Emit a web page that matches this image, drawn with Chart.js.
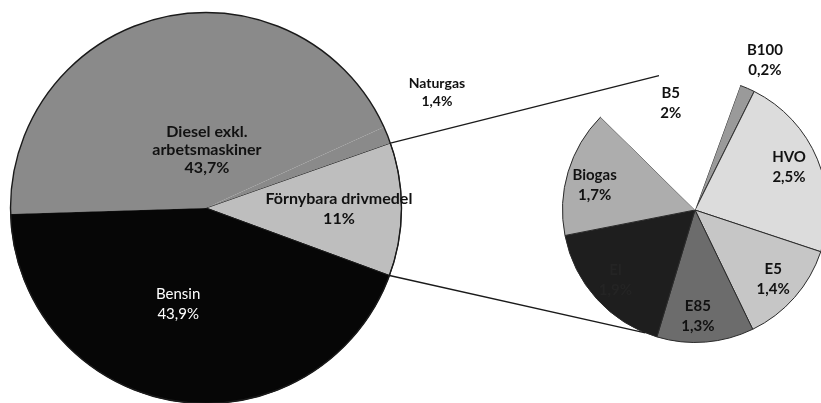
<!DOCTYPE html>
<html><head><meta charset="utf-8">
<script src="https://cdn.jsdelivr.net/npm/chart.js@4"></script>
<style>
html,body{margin:0;padding:0;background:#fff;overflow:hidden;width:821px;height:403px}
#wrap{position:relative;width:821px;height:403px;overflow:hidden;background:#fff}
canvas{position:absolute;left:0;top:0}
</style></head><body>
<div id="wrap"><canvas id="main" width="840" height="420"></canvas><canvas id="sub" width="840" height="420"></canvas></div>
<script>
// ---- data ----
const mainLabels = ['Förnybara drivmedel', 'Bensin', ['Diesel exkl.', 'arbetsmaskiner'], 'Naturgas'];
const mainValues = [11, 43.9, 43.7, 1.4];
const subLabels = ['B100', 'HVO', 'E5', 'E85', 'El', 'Biogas', 'B5'];
const subValues = [0.2, 2.5, 1.4, 1.3, 1.9, 1.7, 2];

// ---- styling ----
const mainColors = ['#bebebe', '#060606', '#8a8a8a', '#8a8a8a'];
const mainBorders = [1, 1, 0, 0];
const subColors = ['#9a9a9a', '#dcdcdc', '#c6c6c6', '#6c6c6c', '#1e1e1e', '#adadad', '#ffffff'];
const subBorders = [1, 1, 1, 1, 1, 1, 0];
const mainPlace = [
  {k: 0.68, da: 0, color: '#111', font: 'bold 16px Lato', lh: 20},
  {k: 0.51, da: 7, color: '#fff', font: '15px Lato', lh: 20},
  {k: 0.30, da: 14, color: '#111', font: 'bold 16px Lato', lh: 18},
  {k: 1.32, da: -4.6, color: '#111', font: 'bold 14px Lato', lh: 18}
];
const subPlace = [
  {k: 1.25, da: 1.7, color: '#111'},
  {k: 0.78, da: -2, color: '#111'},
  {k: 0.79, da: 0.4, color: '#111'},
  {k: 0.80, da: 3, color: '#111'},
  {k: 0.80, da: 0.8, color: '#242424'},
  {k: 0.78, da: -3, color: '#111'},
  {k: 0.83, da: 0, color: '#111'}
];

function fmt(v) { return String(v).replace('.', ',') + '%'; }

function labelPlugin(place, defFont, defLh, outline) {
  return {
    id: 'sliceLabels',
    afterDatasetsDraw(chart) {
      const ctx = chart.ctx;
      const meta = chart.getDatasetMeta(0);
      const labels = chart.data.labels;
      const values = chart.data.datasets[0].data;
      if (outline) {
        const p0 = meta.data[0].getProps(['x', 'y', 'outerRadius'], true);
        ctx.save();
        ctx.strokeStyle = '#1a1a1a';
        ctx.lineWidth = 1.4;
        ctx.beginPath();
        ctx.arc(p0.x, p0.y, p0.outerRadius, 0, Math.PI * 2);
        ctx.stroke();
        ctx.restore();
      }
      meta.data.forEach((arc, i) => {
        const p = arc.getProps(['x', 'y', 'startAngle', 'endAngle', 'outerRadius'], true);
        const pl = place[i];
        const mid = (p.startAngle + p.endAngle) / 2 + pl.da * Math.PI / 180;
        const r = pl.k * p.outerRadius;
        const cx = p.x + Math.cos(mid) * r;
        const cy = p.y + Math.sin(mid) * r;
        const lines = [].concat(labels[i], fmt(values[i]));
        const lh = pl.lh || defLh;
        ctx.save();
        ctx.font = pl.font || defFont;
        ctx.fillStyle = pl.color;
        ctx.textAlign = 'center';
        ctx.textBaseline = 'middle';
        const top = cy - (lines.length - 1) * lh / 2;
        lines.forEach((t, j) => ctx.fillText(t, cx, top + j * lh));
        ctx.restore();
      });
    }
  };
}

const mainChart = new Chart(document.getElementById('main'), {
  type: 'pie',
  data: {labels: mainLabels, datasets: [{data: mainValues, backgroundColor: mainColors, borderColor: '#1a1a1a', borderWidth: mainBorders}]},
  options: {
    responsive: false, animation: false, rotation: 70.6,
    layout: {padding: {left: 10, top: 12, right: 438, bottom: 16}},
    plugins: {legend: {display: false}, tooltip: {enabled: false}}
  },
  plugins: [labelPlugin(mainPlace, 'bold 15px Lato', 19, true)]
});

const connectors = {
  id: 'connectors',
  afterDatasetsDraw(chart) {
    const ctx = chart.ctx;
    const m = mainChart.getDatasetMeta(0).data[0].getProps(['x', 'y', 'startAngle', 'endAngle', 'outerRadius'], true);
    const s = chart.getDatasetMeta(0).data[0].getProps(['x', 'y', 'outerRadius'], true);
    const a1 = -105 * Math.PI / 180, a2 = 112 * Math.PI / 180;
    ctx.save();
    ctx.strokeStyle = '#1a1a1a';
    ctx.lineWidth = 1.3;
    ctx.beginPath();
    ctx.moveTo(m.x + Math.cos(m.startAngle) * m.outerRadius, m.y + Math.sin(m.startAngle) * m.outerRadius);
    ctx.lineTo(s.x + Math.cos(a1) * s.outerRadius * 1.05, s.y + Math.sin(a1) * s.outerRadius * 1.05);
    ctx.moveTo(m.x + Math.cos(m.endAngle) * m.outerRadius, m.y + Math.sin(m.endAngle) * m.outerRadius);
    ctx.lineTo(s.x + Math.cos(a2) * s.outerRadius, s.y + Math.sin(a2) * s.outerRadius);
    ctx.stroke();
    ctx.restore();
  }
};

new Chart(document.getElementById('sub'), {
  type: 'pie',
  data: {labels: subLabels, datasets: [{data: subValues, backgroundColor: subColors, borderColor: '#2a2a2a', borderWidth: subBorders}]},
  options: {
    responsive: false, animation: false, rotation: 20,
    layout: {padding: {left: 562, top: 77, right: 12, bottom: 77}},
    plugins: {legend: {display: false}, tooltip: {enabled: false}}
  },
  plugins: [connectors, labelPlugin(subPlace, 'bold 15px Lato', 20, false)]
});
</script>
</body></html>
